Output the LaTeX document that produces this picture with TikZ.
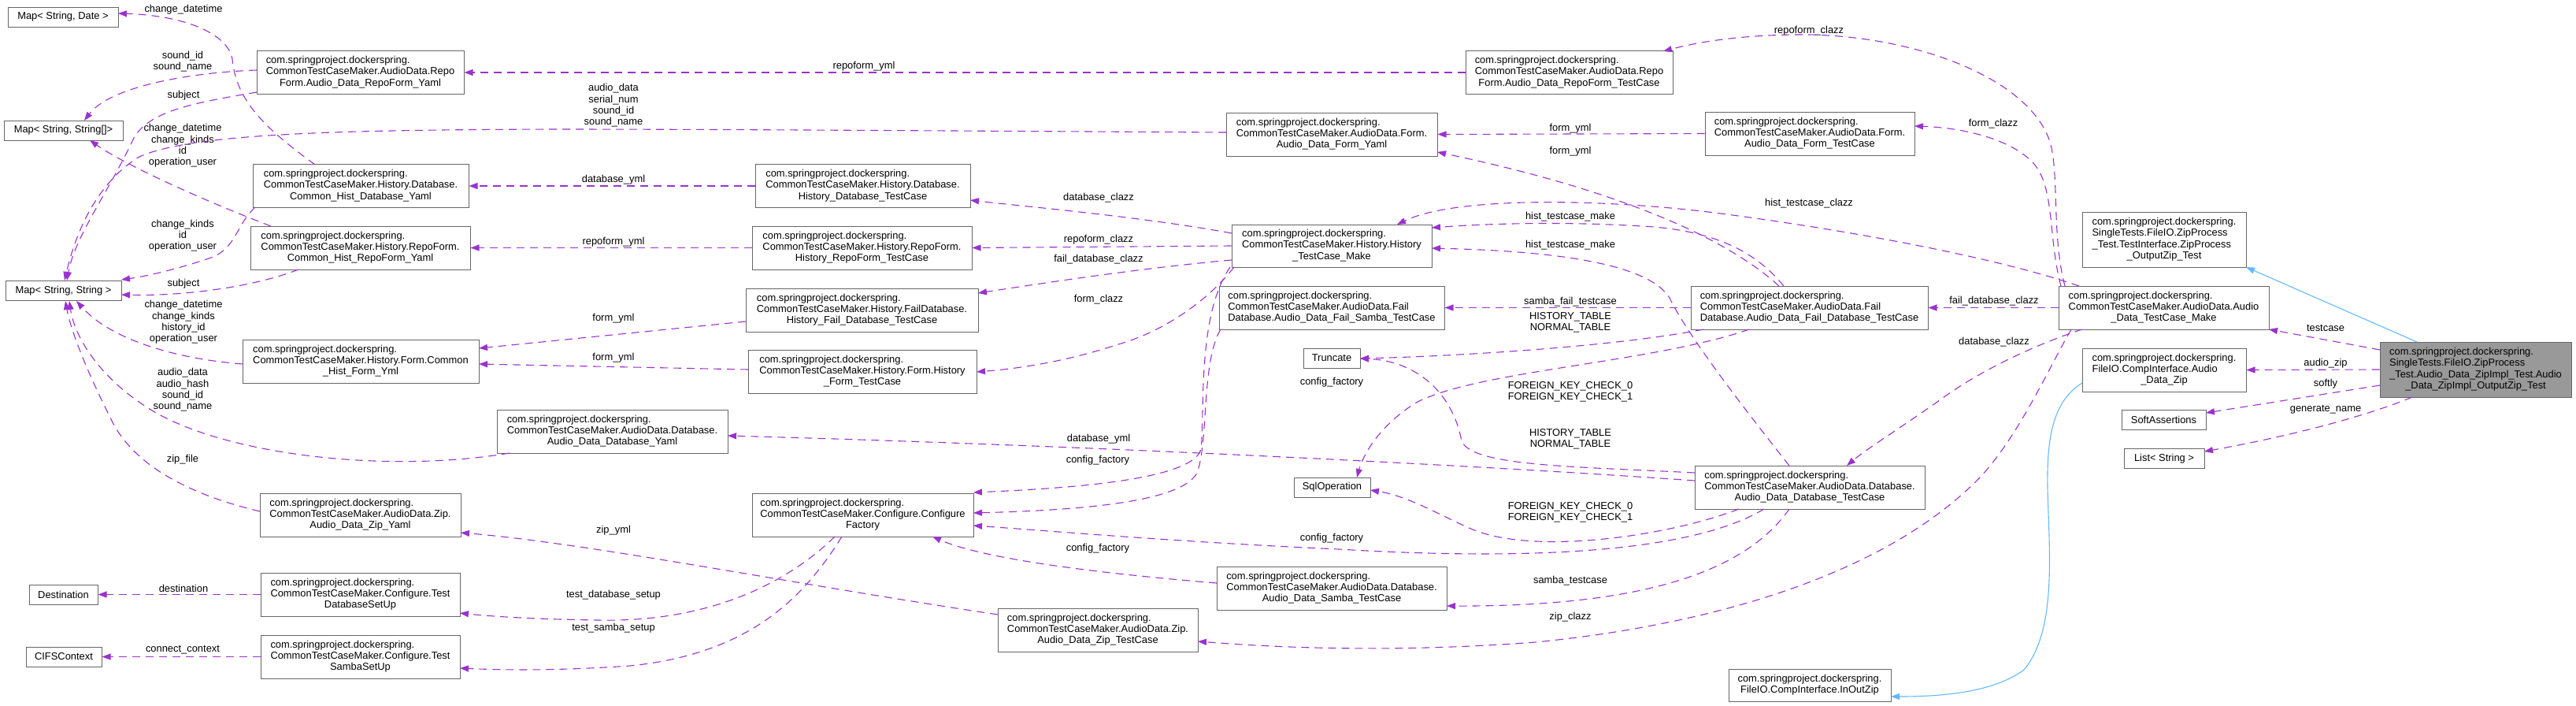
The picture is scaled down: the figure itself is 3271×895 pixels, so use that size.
\documentclass[tikz,border=0pt]{standalone}
\usepackage{fontspec}
\setmainfont{Liberation Sans}
\usetikzlibrary{arrows.meta}
\definecolor{boxgray}{HTML}{666666}
\definecolor{maingray}{HTML}{999999}
\definecolor{usepurple}{HTML}{9A32CD}
\definecolor{inhblue}{HTML}{63B8FF}
\newcommand{\dxfont}{\fontsize{12.9}{14.3}\selectfont}
\newcommand{\dxlines}[1]{\begin{tabular}{@{}l@{}}#1\end{tabular}}
\newcommand{\dxlast}[1]{\multicolumn{1}{@{}c@{}}{#1}}
\newcommand{\cspk}{com.springproject.dockerspring.}
\tikzset{
    cls/.style={rectangle, draw=boxgray, fill=white, line width=1pt, inner sep=0pt, font=\dxfont, minimum height=55pt},
    typ/.style={cls, minimum height=25pt},
    mainbox/.style={cls, fill=maingray, minimum height=70pt},
    lbl/.style={font=\dxfont, inner sep=0pt, align=center},
    use/.style={usepurple, line width=1.1pt, dash pattern=on 10pt off 7pt, -{Triangle[length=11pt, width=8pt]}},
    inherit/.style={inhblue, line width=1.1pt, -{Triangle[length=11pt, width=8pt]}}
}

\begin{document}
\begin{tikzpicture}[x=1pt, y=-1pt]
    \useasboundingbox (0,0) rectangle (3271,895);

    % column of used types
    \node (mapDate) [typ, minimum width=140pt] at (80,21.5) {Map< String, Date >};
    \node (mapArr) [typ, minimum width=151pt] at (80.5,165.5) {Map< String, String[]>};
    \node (mapStr) [typ, minimum width=147pt] at (80.5,369) {Map< String, String >};
    \node (destination) [typ, minimum width=87pt] at (80.5,754.5) {Destination};
    \node (cifs) [typ, minimum width=96pt] at (81,833.5) {CIFSContext};

    % yaml classes
    \node (repoYaml) [cls, minimum width=263pt] at (457.5,92) {\dxlines{\cspk\\CommonTestCaseMaker.AudioData.Repo\\\dxlast{Form.Audio\_Data\_RepoForm\_Yaml}}};
    \node (histDbYaml) [cls, minimum width=274pt] at (458,236) {\dxlines{\cspk\\CommonTestCaseMaker.History.Database.\\\dxlast{Common\_Hist\_Database\_Yaml}}};
    \node (histRepoYaml) [cls, minimum width=279pt] at (457.5,314.5) {\dxlines{\cspk\\CommonTestCaseMaker.History.RepoForm.\\\dxlast{Common\_Hist\_RepoForm\_Yaml}}};
    \node (histFormYml) [cls, minimum width=300pt] at (458,458.5) {\dxlines{\cspk\\CommonTestCaseMaker.History.Form.Common\\\dxlast{\_Hist\_Form\_Yml}}};
    \node (zipYaml) [cls, minimum width=255pt] at (457.5,653.5) {\dxlines{\cspk\\CommonTestCaseMaker.AudioData.Zip.\\\dxlast{Audio\_Data\_Zip\_Yaml}}};
    \node (dbSetUp) [cls, minimum width=253pt] at (457.5,754.5) {\dxlines{\cspk\\CommonTestCaseMaker.Configure.Test\\\dxlast{DatabaseSetUp}}};
    \node (sambaSetUp) [cls, minimum width=253pt] at (457.5,833.5) {\dxlines{\cspk\\CommonTestCaseMaker.Configure.Test\\\dxlast{SambaSetUp}}};
    \node (audioDbYaml) [cls, minimum width=293pt] at (777.5,547.5) {\dxlines{\cspk\\CommonTestCaseMaker.AudioData.Database.\\\dxlast{Audio\_Data\_Database\_Yaml}}};

    % history test cases
    \node (histDbTC) [cls, minimum width=273pt] at (1095.5,236) {\dxlines{\cspk\\CommonTestCaseMaker.History.Database.\\\dxlast{History\_Database\_TestCase}}};
    \node (histRepoTC) [cls, minimum width=279pt] at (1094.5,314.5) {\dxlines{\cspk\\CommonTestCaseMaker.History.RepoForm.\\\dxlast{History\_RepoForm\_TestCase}}};
    \node (histFailDbTC) [cls, minimum width=295pt] at (1094.5,393.5) {\dxlines{\cspk\\CommonTestCaseMaker.History.FailDatabase.\\\dxlast{History\_Fail\_Database\_TestCase}}};
    \node (histFormTC) [cls, minimum width=290pt] at (1095,471.5) {\dxlines{\cspk\\CommonTestCaseMaker.History.Form.History\\\dxlast{\_Form\_TestCase}}};
    \node (confFactory) [cls, minimum width=281pt] at (1095.5,653.5) {\dxlines{\cspk\\CommonTestCaseMaker.Configure.Configure\\\dxlast{Factory}}};
    \node (zipTC) [cls, minimum width=254pt] at (1394,799.5) {\dxlines{\cspk\\CommonTestCaseMaker.AudioData.Zip.\\\dxlast{Audio\_Data\_Zip\_TestCase}}};

    % middle column
    \node (formYaml) [cls, minimum width=268pt] at (1691,170.5) {\dxlines{\cspk\\CommonTestCaseMaker.AudioData.Form.\\\dxlast{Audio\_Data\_Form\_Yaml}}};
    \node (histMake) [cls, minimum width=254pt, minimum height=54pt] at (1691,312) {\dxlines{\cspk\\CommonTestCaseMaker.History.History\\\dxlast{\_TestCase\_Make}}};
    \node (failSambaTC) [cls, minimum width=286pt] at (1691,390.5) {\dxlines{\cspk\\CommonTestCaseMaker.AudioData.Fail\\\dxlast{Database.Audio\_Data\_Fail\_Samba\_TestCase}}};
    \node (truncate) [typ, minimum width=72pt] at (1691,454.5) {Truncate};
    \node (sqlOp) [typ, minimum width=97pt] at (1691.5,618.5) {SqlOperation};
    \node (sambaTC) [cls, minimum width=292pt] at (1691,746.5) {\dxlines{\cspk\\CommonTestCaseMaker.AudioData.Database.\\\dxlast{Audio\_Data\_Samba\_TestCase}}};

    % audio data test cases
    \node (repoTC) [cls, minimum width=263pt] at (1992.5,92) {\dxlines{\cspk\\CommonTestCaseMaker.AudioData.Repo\\\dxlast{Form.Audio\_Data\_RepoForm\_TestCase}}};
    \node (formTC) [cls, minimum width=266pt] at (2298,169.5) {\dxlines{\cspk\\CommonTestCaseMaker.AudioData.Form.\\\dxlast{Audio\_Data\_Form\_TestCase}}};
    \node (failDbTC) [cls, minimum width=301pt] at (2297.5,390.5) {\dxlines{\cspk\\CommonTestCaseMaker.AudioData.Fail\\\dxlast{Database.Audio\_Data\_Fail\_Database\_TestCase}}};
    \node (audioDbTC) [cls, minimum width=292pt] at (2298,618.5) {\dxlines{\cspk\\CommonTestCaseMaker.AudioData.Database.\\\dxlast{Audio\_Data\_Database\_TestCase}}};
    \node (inOutZip) [cls, minimum width=206pt, minimum height=41pt] at (2298,869.5) {\dxlines{\cspk\\\dxlast{FileIO.CompInterface.InOutZip}}};

    % right side
    \node (zipOutTest) [cls, minimum width=208pt, minimum height=70pt] at (2748,304) {\dxlines{\cspk\\SingleTests.FileIO.ZipProcess\\\_Test.TestInterface.ZipProcess\\\dxlast{\_OutputZip\_Test}}};
    \node (audioMake) [cls, minimum width=267pt] at (2747.5,390.5) {\dxlines{\cspk\\CommonTestCaseMaker.AudioData.Audio\\\dxlast{\_Data\_TestCase\_Make}}};
    \node (audioZip) [cls, minimum width=208pt] at (2748,469.5) {\dxlines{\cspk\\FileIO.CompInterface.Audio\\\dxlast{\_Data\_Zip}}};
    \node (softAssert) [typ, minimum width=107pt] at (2747.5,533) {SoftAssertions};
    \node (listStr) [typ, minimum width=102pt] at (2748,582) {List< String >};
    \node (mainNode) [mainbox, minimum width=243pt] at (3143.5,469) {\dxlines{\cspk\\SingleTests.FileIO.ZipProcess\\\_Test.Audio\_Data\_ZipImpl\_Test.Audio\\\dxlast{\_Data\_ZipImpl\_OutputZip\_Test}}};

    % edge labels
    \node (lb01) [lbl] at (233,12) {change\_datetime};
    \node (lb02) [lbl] at (232,78) {sound\_id\\sound\_name};
    \node (lb03) [lbl] at (233,121) {subject};
    \node (lb04) [lbl] at (779,134) {audio\_data\\serial\_num\\sound\_id\\sound\_name};
    \node (lb05) [lbl] at (232,185) {change\_datetime\\change\_kinds\\id\\operation\_user};
    \node (lb06) [lbl] at (232,299) {change\_kinds\\id\\operation\_user};
    \node (lb07) [lbl] at (233,360) {subject};
    \node (lb08) [lbl] at (233,409) {change\_datetime\\change\_kinds\\history\_id\\operation\_user};
    \node (lb09) [lbl] at (232,495) {audio\_data\\audio\_hash\\sound\_id\\sound\_name};
    \node (lb10) [lbl] at (232,583) {zip\_file};
    \node (lb11) [lbl] at (233,747) {destination};
    \node (lb12) [lbl] at (232,825) {connect\_context};
    \node (lb13) [lbl] at (1097,84) {repoform\_yml};
    \node (lb14) [lbl] at (779,228) {database\_yml};
    \node (lb15) [lbl] at (779,307) {repoform\_yml};
    \node (lb16) [lbl] at (779,404) {form\_yml};
    \node (lb17) [lbl] at (779,454) {form\_yml};
    \node (lb18) [lbl] at (779,673) {zip\_yml};
    \node (lb19) [lbl] at (779,755) {test\_database\_setup};
    \node (lb20) [lbl] at (779,797) {test\_samba\_setup};
    \node (lb21) [lbl] at (1395,251) {database\_clazz};
    \node (lb22) [lbl] at (1395,304) {repoform\_clazz};
    \node (lb23) [lbl] at (1395,329) {fail\_database\_clazz};
    \node (lb24) [lbl] at (1395,380) {form\_clazz};
    \node (lb25) [lbl] at (1395,557) {database\_yml};
    \node (lb26) [lbl] at (1394,584) {config\_factory};
    \node (lb27) [lbl] at (1394,696) {config\_factory};
    \node (lb28) [lbl] at (1691,485) {config\_factory};
    \node (lb29) [lbl] at (1691,683) {config\_factory};
    \node (lb30) [lbl] at (2297,39) {repoform\_clazz};
    \node (lb31) [lbl] at (1994,163) {form\_yml};
    \node (lb32) [lbl] at (1994,192) {form\_yml};
    \node (lb33) [lbl] at (2297,258) {hist\_testcase\_clazz};
    \node (lb34) [lbl] at (1994,275) {hist\_testcase\_make};
    \node (lb35) [lbl] at (1994,311) {hist\_testcase\_make};
    \node (lb36) [lbl] at (1994,383) {samba\_fail\_testcase};
    \node (lb37) [lbl] at (1994,409) {HISTORY\_TABLE\\NORMAL\_TABLE};
    \node (lb38) [lbl] at (1994,497) {FOREIGN\_KEY\_CHECK\_0\\FOREIGN\_KEY\_CHECK\_1};
    \node (lb39) [lbl] at (1994,557) {HISTORY\_TABLE\\NORMAL\_TABLE};
    \node (lb40) [lbl] at (1994,650) {FOREIGN\_KEY\_CHECK\_0\\FOREIGN\_KEY\_CHECK\_1};
    \node (lb41) [lbl] at (1994,737) {samba\_testcase};
    \node (lb42) [lbl] at (1994,783) {zip\_clazz};
    \node (lb43) [lbl] at (2531,157) {form\_clazz};
    \node (lb44) [lbl] at (2532,382) {fail\_database\_clazz};
    \node (lb45) [lbl] at (2532,434) {database\_clazz};
    \node (lb46) [lbl] at (2953,416) {testcase};
    \node (lb47) [lbl] at (2953,461) {audio\_zip};
    \node (lb48) [lbl] at (2953,487) {softly};
    \node (lb49) [lbl] at (2953,520) {generate\_name};

    % left part
    \draw [use] ([shift={(-58,-27)}]histDbYaml.center) .. controls (340,165) and (300,130) .. (295,75) .. controls (290,45) and (240,20) .. ([shift={(70,-4.5)}]mapDate.center);
    \draw [use] ([shift={(-131.5,-3)}]repoYaml.center) .. controls (240,92) and (140,110) .. ([shift={(26.5,-12.5)}]mapArr.center);
    \draw [use] ([shift={(-131.5,25)}]repoYaml.center) .. controls (250,130) and (190,140) .. (170,175) .. controls (140,240) and (95,300) .. ([shift={(4.5,-13)}]mapStr.center);
    \draw [use] ([shift={(-134,-2.5)}]formYaml.center) .. controls (1200,166) and (900,164) .. (700,164) .. controls (450,165) and (240,168) .. (175,200) .. controls (120,235) and (95,300) .. ([shift={(1.5,-13)}]mapStr.center);
    \draw [use] ([shift={(-113.5,-27.5)}]histRepoYaml.center) .. controls (260,255) and (160,210) .. ([shift={(33.5,12.5)}]mapArr.center);
    \draw [use] ([shift={(-134,27)}]histDbYaml.center) .. controls (300,285) and (300,315) .. (268,327) .. controls (230,340) and (190,350) .. ([shift={(73.5,-14)}]mapStr.center);
    \draw [use] ([shift={(-78.5,27.5)}]histRepoYaml.center) .. controls (320,365) and (230,376) .. ([shift={(73.5,5)}]mapStr.center);
    \draw [use] ([shift={(-150,3.5)}]histFormYml.center) .. controls (220,455) and (140,430) .. ([shift={(16.5,13)}]mapStr.center);
    \draw [use] ([shift={(-130.5,27.5)}]audioDbYaml.center) .. controls (500,600) and (300,580) .. (200,525) .. controls (130,485) and (95,430) .. ([shift={(7.5,13)}]mapStr.center);
    \draw [use] ([shift={(-127.5,-4.5)}]zipYaml.center) .. controls (250,630) and (170,595) .. (140,530) .. controls (110,470) and (90,420) .. ([shift={(2.5,13)}]mapStr.center);
    \draw [use] (dbSetUp.west) -- (destination.east);
    \draw [use] (sambaSetUp.west) -- (cifs.east);

    % towards the yaml classes
    \draw [use] (repoTC.west) -- (repoYaml.east);
    \draw [use] (histDbTC.west) -- (histDbYaml.east);
    \draw [use] (histRepoTC.west) -- (histRepoYaml.east);
    \draw [use] ([shift={(-147.5,14.5)}]histFailDbTC.center) -- ([shift={(150,-16.5)}]histFormYml.center);
    \draw [use] ([shift={(-145,-2.5)}]histFormTC.center) -- ([shift={(150,3.5)}]histFormYml.center);
    \draw [use] ([shift={(-127,-19.5)}]zipTC.center) .. controls (1000,740) and (750,690) .. ([shift={(127.5,22.5)}]zipYaml.center);
    \draw [use] ([shift={(-35.5,27.5)}]confFactory.center) .. controls (1000,740) and (900,790) .. (760,787) .. controls (680,786) and (620,782) .. ([shift={(126.5,23.5)}]dbSetUp.center);
    \draw [use] ([shift={(-26.5,27.5)}]confFactory.center) .. controls (1020,760) and (950,830) .. (800,845) .. controls (700,852) and (630,850) .. ([shift={(126.5,14.5)}]sambaSetUp.center);

    % history test case maker
    \draw [use] ([shift={(-127,-16)}]histMake.center) .. controls (1450,275) and (1300,262) .. ([shift={(136.5,18)}]histDbTC.center);
    \draw [use] (histMake.west) -- (histRepoTC.east);
    \draw [use] ([shift={(-127,18)}]histMake.center) .. controls (1450,340) and (1320,360) .. ([shift={(147.5,-21.5)}]histFailDbTC.center);
    \draw [use] ([shift={(-124,27)}]histMake.center) .. controls (1535,380) and (1480,420) .. (1420,437) .. controls (1350,460) and (1290,468) .. ([shift={(145,0.5)}]histFormTC.center);
    \draw [use] ([shift={(-129,27)}]histMake.center) .. controls (1520,400) and (1530,520) .. (1525,570) .. controls (1515,610) and (1350,620) .. ([shift={(140.5,-28.5)}]confFactory.center);
    \draw [use] ([shift={(-141,27.5)}]failSambaTC.center) .. controls (1525,460) and (1535,560) .. (1520,600) .. controls (1500,640) and (1350,648) .. ([shift={(140.5,-2.5)}]confFactory.center);
    \draw [use] ([shift={(-58,27.5)}]audioDbTC.center) .. controls (2150,700) and (1950,712) .. (1700,697) .. controls (1500,688) and (1350,675) .. ([shift={(140.5,13.5)}]confFactory.center);
    \draw [use] ([shift={(-146,-6.5)}]sambaTC.center) .. controls (1400,728) and (1250,710) .. ([shift={(88.5,27.5)}]confFactory.center);
    \draw [use] ([shift={(-146,-8.5)}]audioDbTC.center) .. controls (1900,592) and (1400,566) .. ([shift={(146.5,5.5)}]audioDbYaml.center);

    % fail database and database test cases
    \draw [use] (failDbTC.west) -- (failSambaTC.east);
    \draw [use] ([shift={(-134.5,27.5)}]failDbTC.center) .. controls (2050,440) and (1850,452) .. ([shift={(36,0.5)}]truncate.center);
    \draw [use] ([shift={(-76.5,27.5)}]failDbTC.center) .. controls (2100,460) and (1880,470) .. (1800,510) .. controls (1750,540) and (1730,580) .. ([shift={(31.5,-12.5)}]sqlOp.center);
    \draw [use] ([shift={(-146,-18.5)}]audioDbTC.center) .. controls (2000,592) and (1870,592) .. (1856,560) .. controls (1845,500) and (1800,458) .. ([shift={(36,0.5)}]truncate.center);
    \draw [use] ([shift={(-90,27.5)}]audioDbTC.center) .. controls (2120,680) and (1950,705) .. (1870,672) .. controls (1830,655) and (1790,630) .. ([shift={(48.5,3.5)}]sqlOp.center);
    \draw [use] ([shift={(-26,27.5)}]audioDbTC.center) .. controls (2220,720) and (2100,770) .. ([shift={(146,22.5)}]sambaTC.center);
    \draw [use] ([shift={(-38.5,-27.5)}]failDbTC.center) .. controls (2190,300) and (2050,240) .. ([shift={(134,22.5)}]formYaml.center);
    \draw [use] (formTC.west) -- (formYaml.east);
    \draw [use] ([shift={(-32.5,-27.5)}]failDbTC.center) .. controls (2230,320) and (2180,295) .. (2100,288) .. controls (2000,281) and (1900,283) .. ([shift={(127,-23)}]histMake.center);
    \draw [use] ([shift={(-26,-27.5)}]audioDbTC.center) .. controls (2200,500) and (2140,420) .. (2120,378) .. controls (2090,330) and (1950,318) .. ([shift={(127,3)}]histMake.center);

    % audio data test case maker
    \draw [use] ([shift={(-125.5,-27.5)}]audioMake.center) .. controls (2605,300) and (2615,220) .. (2603,180) .. controls (2575,95) and (2420,42) .. (2280,44) .. controls (2200,45) and (2150,55) .. ([shift={(119.5,-27)}]repoTC.center);
    \draw [use] ([shift={(-130.5,-27.5)}]audioMake.center) .. controls (2600,300) and (2610,235) .. (2580,205) .. controls (2550,175) and (2490,162) .. ([shift={(133,-9.5)}]formTC.center);
    \draw [use] ([shift={(-107.5,-27.5)}]audioMake.center) .. controls (2560,335) and (2400,300) .. (2200,273) .. controls (2050,252) and (1850,248) .. ([shift={(83,-27)}]histMake.center);
    \draw [use] (audioMake.west) -- (failDbTC.east);
    \draw [use] ([shift={(-103.5,27.5)}]audioMake.center) .. controls (2600,432) and (2520,465) .. (2460,510) .. controls (2410,545) and (2370,570) .. ([shift={(47,-27.5)}]audioDbTC.center);
    \draw [use] ([shift={(-117.5,27.5)}]audioMake.center) .. controls (2600,470) and (2560,560) .. (2510,610) .. controls (2400,720) and (2200,790) .. (1950,815) .. controls (1750,830) and (1600,820) .. ([shift={(127,14.5)}]zipTC.center);

    % main class
    \draw [inherit] ([shift={(-74.5,-35)}]mainNode.center) -- ([shift={(104,35)}]zipOutTest.center);
    \draw [use] ([shift={(-121.5,-25)}]mainNode.center) -- ([shift={(133.5,27.5)}]audioMake.center);
    \draw [use] (mainNode.west) -- (audioZip.east);
    \draw [use] ([shift={(-121.5,20)}]mainNode.center) -- ([shift={(53.5,-9)}]softAssert.center);
    \draw [use] ([shift={(-80.5,35)}]mainNode.center) .. controls (3000,530) and (2900,555) .. ([shift={(51,-9)}]listStr.center);
    \draw [inherit] ([shift={(-104,16.5)}]audioZip.center) .. controls (2605,510) and (2599,560) .. (2600,620) .. controls (2602,700) and (2612,800) .. (2570,850) .. controls (2530,880) and (2460,884) .. ([shift={(103,14.5)}]inOutZip.center);
\end{tikzpicture}
\end{document}
